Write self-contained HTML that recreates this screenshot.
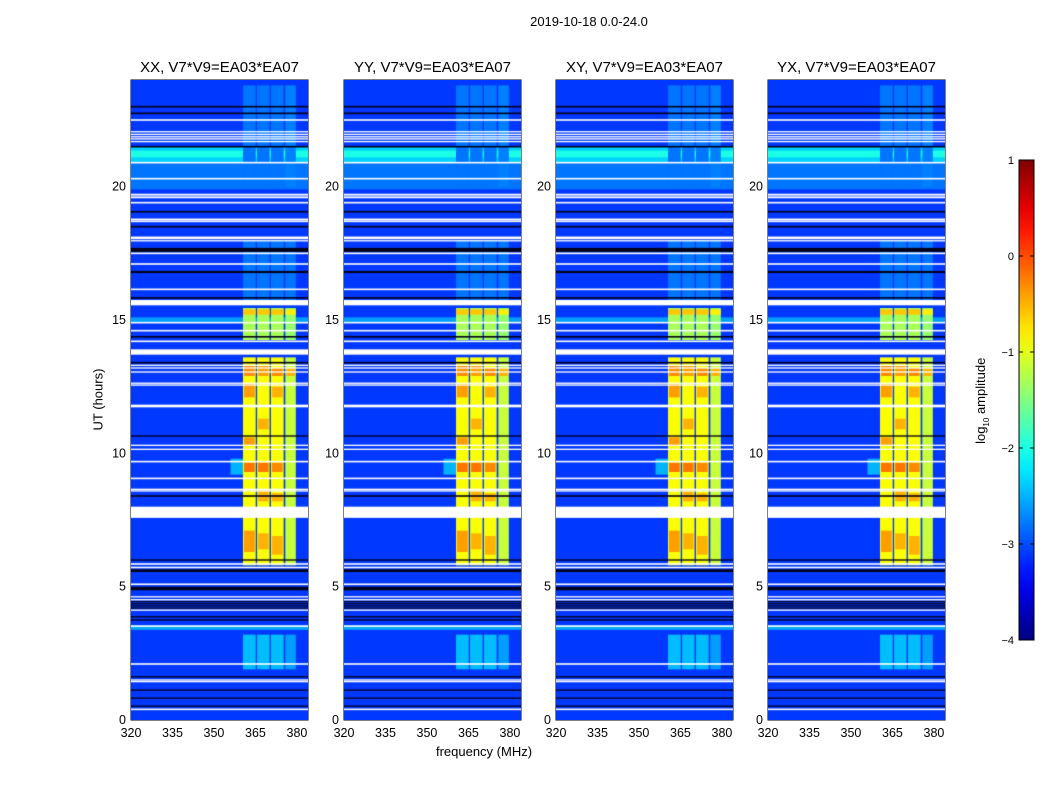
<!DOCTYPE html>
<html><head><meta charset="utf-8"><style>
body{margin:0;background:#fff;font-family:"Liberation Sans",sans-serif;}
#root{position:relative;width:1050px;height:800px;overflow:hidden;background:#fff;}
.t{position:absolute;color:#000;white-space:nowrap;}
canvas{position:absolute;}
</style></head><body>
<div id="root">
<div class="t" style="left:0;width:1178px;top:14px;font-size:13px;text-align:center">2019-10-18 0.0-24.0</div>
<div class="t" style="left:384px;width:200px;top:744px;font-size:13px;text-align:center">frequency (MHz)</div>
<div class="t" style="left:48px;top:392px;width:100px;font-size:13px;text-align:center;transform:rotate(-90deg)">UT (hours)</div>
<div class="t" style="left:932px;top:392px;width:100px;font-size:13px;text-align:center;transform:rotate(-90deg)">log<sub style="font-size:8px">10</sub> amplitude</div>
<svg id="ov" width="1050" height="800" style="position:absolute;left:0;top:0"></svg>
</div>
<script>
const panelTitles=["XX, V7*V9=EA03*EA07","YY, V7*V9=EA03*EA07","XY, V7*V9=EA03*EA07","YX, V7*V9=EA03*EA07"];
const panelLefts=[131,344,556,768];
const xTicks=[320,335,350,365,380];
const yTicks=[0,5,10,15,20];
const cbTicks=[1,0,-1,-2,-3,-4];
const bgLevel=-3.1;
// [startHour,endHour,level]
const broadRows=[[20.9,21.5,-2.35],[21.1,21.35,-2.0],[19.9,20.9,-2.8],[3.38,3.55,-2.55],[14.9,15.1,-2.6]];
// sub-band columns (MHz)
const colStart=[360.5,365.6,370.6,375.8];
const colEnd=[365.1,370.1,375.2,379.6];
// active intervals [start,end,level,lastColLevel]
const active=[[5.8,13.6,-0.9,-1.15],[14.25,15.45,-1.3,-1.4],[15.2,15.4,-0.6,-0.8],[1.9,3.2,-2.45,-2.6],[15.6,18.0,-2.8,-2.8],[20.0,23.8,-2.8,-2.75]];
// orange blobs [start,end,colIndex,level]
const blobs=[[12.9,13.3,0,-0.3],[12.9,13.3,1,-0.4],[12.9,13.2,2,-0.3],[12.9,13.2,3,-0.5],[12.1,12.6,0,-0.4],[12.1,12.5,2,-0.5],[9.3,9.65,0,-0.2],[9.3,9.65,1,-0.2],[9.3,9.65,2,-0.3],[10.3,10.6,0,-0.4],[10.9,11.3,1,-0.5],[6.3,7.1,0,-0.4],[6.4,7.0,1,-0.5],[6.2,6.9,2,-0.5],[8.2,8.6,1,-0.5],[8.2,8.5,2,-0.5]];
const whiteRows=[[22.5,0.06],[22.06,0.05],[21.96,0.05],[21.87,0.05],[21.79,0.05],[21.69,0.05],[20.9,0.06],[20.3,0.06],[19.7,0.07],[19.6,0.07],[19.4,0.06],[18.77,0.07],[18.7,0.06],[18.08,0.1],[17.97,0.05],[17.5,0.06],[17.1,0.06],[16.15,0.06],[15.65,0.2],[14.9,0.06],[14.6,0.06],[14.2,0.06],[13.8,0.2],[13.3,0.05],[13.2,0.05],[13.05,0.05],[12.63,0.05],[12.56,0.05],[11.8,0.05],[11.75,0.05],[10.3,0.05],[10.15,0.05],[9.69,0.06],[9.06,0.06],[8.65,0.05],[8.59,0.05],[7.79,0.42],[5.85,0.06],[5.72,0.06],[5.09,0.06],[4.62,0.05],[4.51,0.05],[4.12,0.05],[3.52,0.06],[2.1,0.06],[1.5,0.05],[1.44,0.05],[0.4,0.06]];
const blackRows=[[23.0,0.06],[22.75,0.06],[21.5,0.06],[19.06,0.06],[18.5,0.06],[17.63,0.15],[16.8,0.08],[15.83,0.06],[14.37,0.06],[13.4,0.06],[10.65,0.05],[8.4,0.06],[6.0,0.05],[5.6,0.1],[4.93,0.13],[4.44,0.04],[4.36,0.04],[4.28,0.04],[4.2,0.04],[3.87,0.05],[3.75,0.05],[1.62,0.05],[1.12,0.05],[0.82,0.05],[0.52,0.05]];

function jet(v){let t=(v+4)/5;t=Math.max(0,Math.min(1,t));
 const f=x=>Math.round(255*Math.max(0,Math.min(1,x)));
 return `rgb(${f(1.5-Math.abs(4*t-3))},${f(1.5-Math.abs(4*t-2))},${f(1.5-Math.abs(4*t-1))})`;}
const W=177,H=640,TOP=80;
const fx=f=>(f-320)*W/64;
const hy=h=>H-h*H/24;
const root=document.getElementById('root');
const ov=document.getElementById('ov');
const NS="http://www.w3.org/2000/svg";
function sv(tag,attrs,parent){const e=document.createElementNS(NS,tag);for(const k in attrs)e.setAttribute(k,attrs[k]);(parent||ov).appendChild(e);return e;}

panelLefts.forEach((L,p)=>{
 const c=document.createElement('canvas');c.width=W;c.height=H;c.style.left=L+'px';c.style.top=TOP+'px';
 
 
 root.appendChild(c);
 const g=c.getContext('2d');
 g.fillStyle=jet(bgLevel);g.fillRect(0,0,W,H);
 broadRows.forEach(r=>{g.fillStyle=jet(r[2]);g.fillRect(0,hy(r[1]),W,hy(r[0])-hy(r[1]));});
 g.fillStyle=jet(-2.5);g.fillRect(fx(356),hy(9.8),fx(360.5)-fx(356),hy(9.2)-hy(9.8));
 active.forEach(a=>{colStart.forEach((s,i)=>{g.fillStyle=jet(i===3?a[3]:a[2]);
   g.fillRect(fx(s),hy(a[1]),fx(colEnd[i])-fx(s),hy(a[0])-hy(a[1]));});});
 blobs.forEach(b=>{g.fillStyle=jet(b[3]);const s=colStart[b[2]],e=colEnd[b[2]];
   g.fillRect(fx(s)+1,hy(b[1]),fx(e)-fx(s)-2,hy(b[0])-hy(b[1]));});
 whiteRows.forEach(r=>{g.fillStyle='#fff';g.fillRect(0,hy(r[0]+r[1]/2),W,Math.max(1.2,r[1]*H/24));});
 blackRows.forEach(r=>{g.fillStyle='#000018';g.fillRect(0,hy(r[0]+r[1]/2),W,Math.max(1.2,r[1]*H/24));});
 sv('rect',{x:L,y:TOP,width:W,height:H,fill:'none',stroke:'#000','stroke-width':1,});
 const t=document.createElement('div');t.className='t';t.style.cssText=`left:${L-20}px;width:${W+40}px;top:59px;font-size:15px;text-align:center`;t.textContent=panelTitles[p];
 
 
 root.appendChild(t);
 xTicks.forEach(v=>{const x=L+fx(v);
  sv('line',{x1:x,x2:x,y1:TOP+H,y2:TOP+H-5,stroke:'#000'});sv('line',{x1:x,x2:x,y1:TOP,y2:TOP+5,stroke:'#000'});
  const tx=sv('text',{x:x,y:TOP+H+17,'font-size':12.5,'text-anchor':'middle','font-family':'Liberation Sans'});tx.textContent=v;
  
  });
 yTicks.forEach(v=>{const y=TOP+hy(v);
  sv('line',{x1:L,x2:L+5,y1:y,y2:y,stroke:'#000'});sv('line',{x1:L+W,x2:L+W-5,y1:y,y2:y,stroke:'#000'});
  const tx=sv('text',{x:L-5,y:y+4,'font-size':12.5,'text-anchor':'end','font-family':'Liberation Sans'});tx.textContent=v;
  
  });
});
const cbX=1019,cbY=160,cbW=15,cbH=480;
const defs=sv('defs',{});const lg=sv('linearGradient',{id:'jetg',x1:0,y1:1,x2:0,y2:0},defs);
for(let i=0;i<=20;i++){const v=-4+5*i/20;sv('stop',{offset:i/20,'stop-color':jet(v)},lg);}
sv('rect',{x:cbX,y:cbY,width:cbW,height:cbH,fill:'url(#jetg)',stroke:'#000',});
cbTicks.forEach(v=>{const y=cbY+(1-v)*cbH/5;
 sv('line',{x1:cbX,x2:cbX+4,y1:y,y2:y,stroke:'#000'});sv('line',{x1:cbX+cbW,x2:cbX+cbW-4,y1:y,y2:y,stroke:'#000'});
 const tx=sv('text',{x:cbX-5,y:y+4,'font-size':11,'text-anchor':'end','font-family':'Liberation Sans'});tx.textContent=(v<0?'\u2212'+(-v):v);
 
 });
</script>
</body></html>
